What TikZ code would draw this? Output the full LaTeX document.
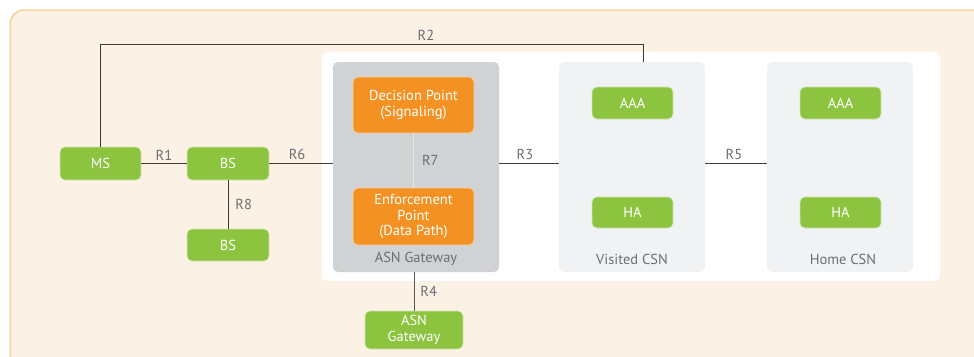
\documentclass[tikz,border=0pt]{standalone}
\usepackage{fontspec}
\setmainfont{PT Sans}
\usetikzlibrary{positioning}
\definecolor{cream}{HTML}{FBF2E5}
\definecolor{rim}{HTML}{F8BE78}
\definecolor{leaf}{HTML}{8CC43F}
\definecolor{amber}{HTML}{F39222}
\definecolor{slate}{HTML}{D1D2D4}
\definecolor{mist}{HTML}{F1F2F3}
\definecolor{ink}{HTML}{6D6E71}
\definecolor{wire}{HTML}{3C3C3C}

\begin{document}
\begin{tikzpicture}[x=1pt,y=-1pt]
    \tikzstyle{every node}+=[inner sep=0pt, font=\fontsize{14.5}{15.5}\selectfont]
    \tikzstyle{unit}=[rectangle, rounded corners=5pt, fill=leaf, draw=leaf!40!white, line width=0.6pt, text=white, align=center, minimum width=81pt, minimum height=33pt]
    \tikzstyle{point}=[unit, fill=amber, draw=amber!40!white, minimum width=121pt, minimum height=56pt]
    \tikzstyle{group}=[rectangle, rounded corners=5pt, minimum width=146pt, minimum height=210pt]
    \tikzstyle{ref}=[text=ink, inner sep=3pt]
    \tikzstyle{link}=[wire, line width=0.9pt]
    \useasboundingbox (0,0) rectangle (974,356);
    \clip (0,0) rectangle (974,356);
    \draw [rim, fill=cream, line width=1pt, rounded corners=14pt] (10,10) rectangle (1000,380);
    \fill [white, rounded corners=5pt] (322,52) rectangle (940,281);

    \node [group, fill=slate, minimum width=166pt] (gw) at (416,167) {};
    \node [group, fill=mist] (vcsn) at (632,167) {};
    \node [group, fill=mist] (hcsn) at (840,167) {};
    \node [text=ink] (gwlabel) at (416,259) {ASN Gateway};
    \node [text=ink] (vlabel) at (632,259) {Visited CSN};
    \node [text=ink] (hlabel) at (843,259) {Home CSN};

    \node [point] (dp) at (413.5,105) {Decision Point\\(Signaling)};
    \node [point, minimum height=57pt] (ep) at (413.5,216.5) {Enforcement\\Point\\(Data Path)};

    \node [unit] (ms) at (100.5,163.5) {MS};
    \node [unit, minimum width=82pt] (bs) at (228,163.5) {BS};
    \node [unit, minimum width=82pt, minimum height=32pt] (bsb) at (228,245) {BS};
    \node [unit, minimum width=98pt, minimum height=38pt] (agw) at (414,330) {ASN\\Gateway};
    \node [unit, minimum height=32pt] (vaaa) at (632.5,103) {AAA};
    \node [unit, minimum height=31pt] (vha) at (632.5,212.5) {HA};
    \node [unit, minimum height=32pt] (haaa) at (840.5,103) {AAA};
    \node [unit, minimum height=31pt] (hha) at (840.5,212.5) {HA};

    \draw [link] (ms.east) -- node [ref, above] {R1} (bs.west);
    \draw [link] (bs.east) -- node [ref, above, xshift=-4pt] {R6} (bs.east -| gw.west);
    \draw [link] (bs.east -| gw.east) -- node [ref, above, xshift=-4pt] {R3} (bs.east -| vcsn.west);
    \draw [link] (bs.east -| vcsn.east) -- node [ref, above, xshift=-2pt] {R5} (bs.east -| hcsn.west);
    \draw [link] (bs.south) -- node [ref, right, inner sep=7pt] {R8} (bsb.north);
    \draw [white!90!black, line width=1pt] (dp.south) -- node [ref, right, inner sep=8pt] {R7} (ep.north);
    \draw [link, ink!80!black] (gw.south -| agw.north) -- node [ref, right, inner sep=6pt] {R4} (agw.north);
    \coordinate (r2turn) at (643,44);
    \draw [link] (ms.north) |- node [ref, above, pos=0.8] {R2} (r2turn) -- (r2turn |- vcsn.north);
\end{tikzpicture}
\end{document}
